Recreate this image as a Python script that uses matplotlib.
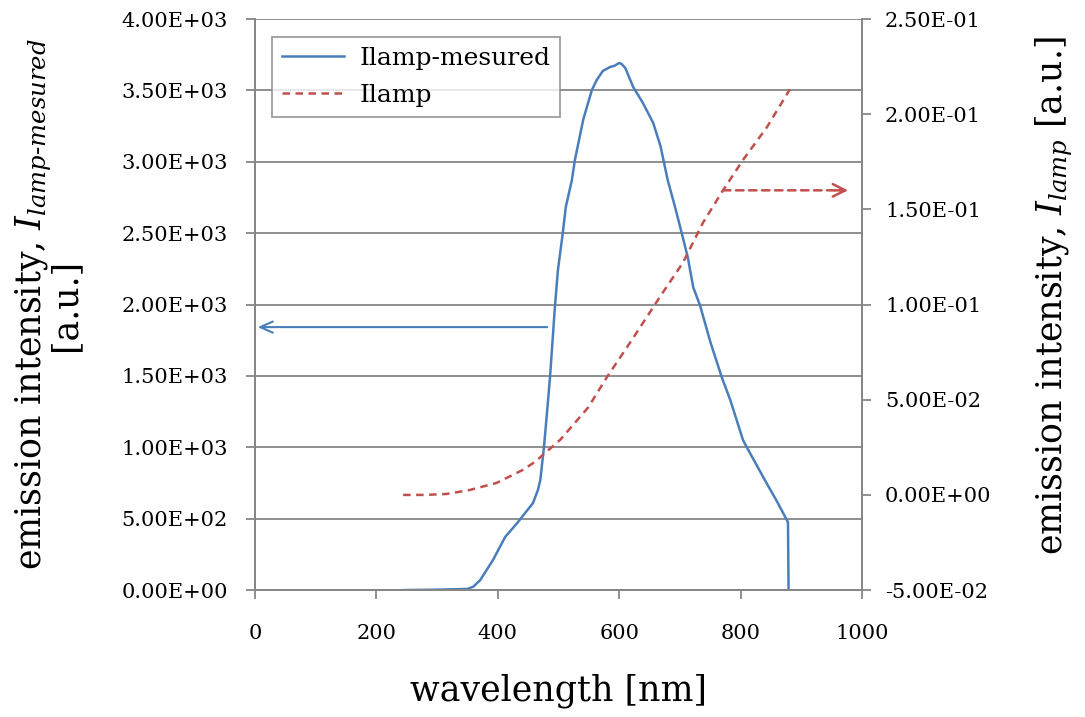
import matplotlib
matplotlib.use("Agg")
import matplotlib.pyplot as plt
from matplotlib.ticker import FuncFormatter

plt.rcParams['font.family'] = ['DejaVu Serif']
plt.rcParams['mathtext.fontset'] = 'dejavuserif'

# Measured lamp spectrum (left axis)
wl_meas = [244, 300, 350, 360, 371, 392, 412, 432, 458, 466, 470, 476, 481, 486, 494, 499, 507, 512,
           522, 527, 541, 555, 563, 573, 585, 592, 600, 604, 610, 623, 639, 656, 668, 680, 692,
           703, 713, 722, 733, 750, 769, 783, 804, 810, 840, 860, 878, 879]
I_meas = [0, 3, 8, 25, 70, 210, 371, 470, 610, 700, 770, 1000, 1240, 1490, 1980, 2240, 2500, 2683,
          2870, 3013, 3300, 3503, 3573, 3636, 3664, 3672, 3692, 3685, 3657, 3524, 3412, 3272, 3110, 2870, 2683,
          2500, 2330, 2120, 1996, 1740, 1490, 1331, 1050, 1002, 770, 620, 476, 0]

# Lamp model (right axis)
wl_lamp = [244, 280, 316, 354, 398, 441, 461, 503, 549, 580, 620, 667, 705, 738, 771, 804, 843, 881]
I_lamp = [0, 0, 0.0005, 0.0026, 0.0063, 0.0131, 0.0173, 0.029, 0.046, 0.062, 0.081, 0.104, 0.122,
          0.143, 0.160, 0.176, 0.193, 0.213]

left_ticks = [0, 500, 1000, 1500, 2000, 2500, 3000, 3500, 4000]
right_ticks = [-0.05, 0, 0.05, 0.10, 0.15, 0.20, 0.25]
x_ticks = [0, 200, 400, 600, 800, 1000]

blue = '#4a7ebb'
red = '#c0504d'
gray = '#868686'

fig = plt.figure(figsize=(10.85, 7.17), dpi=100)
ax = fig.add_axes([0.235, 0.177, 0.5595, 0.7965])
ax2 = ax.twinx()

l1, = ax.plot(wl_meas, I_meas, color=blue, lw=1.8, label='Ilamp-mesured')
l2, = ax2.plot(wl_lamp, I_lamp, color=red, lw=1.8, ls=(0, (3, 2.2)), label='Ilamp')

ax.set_xlim(0, 1000)
ax.set_ylim(0, 4000)
ax2.set_ylim(-0.05, 0.25)
ax.set_xticks(x_ticks)
ax.set_yticks(left_ticks)
ax2.set_yticks(right_ticks)

def efmt(v, pos):
    return '%.2E' % v
ax.yaxis.set_major_formatter(FuncFormatter(efmt))
ax2.yaxis.set_major_formatter(FuncFormatter(efmt))

ax.grid(axis='y', color=gray, lw=1.3)
ax.set_axisbelow(True)
for a in (ax, ax2):
    for sp in a.spines.values():
        sp.set_color(gray)
        sp.set_linewidth(1.3)
    a.tick_params(colors=gray, labelcolor='black', width=1.3, length=6.5, labelsize=15)
ax.spines['top'].set_visible(False)
ax2.spines['top'].set_visible(False)
ax.tick_params(axis='y', pad=13)
ax2.tick_params(axis='y', pad=10)
ax.tick_params(axis='x', pad=18)

ax.set_xlabel('wavelength [nm]', fontsize=25, labelpad=22)
ax.set_ylabel('emission intensity, $I_{lamp\\text{-}mesured}$\n[a.u.]', fontsize=25,
              linespacing=0.8)
ax.yaxis.set_label_coords(-0.284, 0.5)
ax2.set_ylabel('emission intensity, $I_{lamp}$ [a.u.]', fontsize=25)
ax2.yaxis.set_label_coords(1.282, 0.515)

leg = ax.legend(handles=[l1, l2], loc='upper left', bbox_to_anchor=(0.028, 0.9685),
                fontsize=18, frameon=True, fancybox=False, borderpad=0.4, borderaxespad=0,
                handlelength=2.5, handletextpad=0.6, labelspacing=0.55)
leg.get_frame().set_edgecolor(gray)
leg.get_frame().set_linewidth(1.3)

ax.annotate('', xy=(0, 1842), xytext=(486, 1842),
            arrowprops=dict(arrowstyle='->,head_length=0.9,head_width=0.4', color=blue, lw=1.5))
ax2.annotate('', xy=(972, 0.160), xytext=(771, 0.160),
             arrowprops=dict(arrowstyle='-', color=red, lw=1.8, ls=(0, (3, 2.2)),
                             shrinkA=0, shrinkB=0))
ax2.annotate('', xy=(977, 0.160), xytext=(955, 0.160),
             arrowprops=dict(arrowstyle='->,head_length=0.9,head_width=0.45', color=red, lw=1.8,
                             shrinkA=0, shrinkB=0))

fig.savefig('out.png', dpi=100)
